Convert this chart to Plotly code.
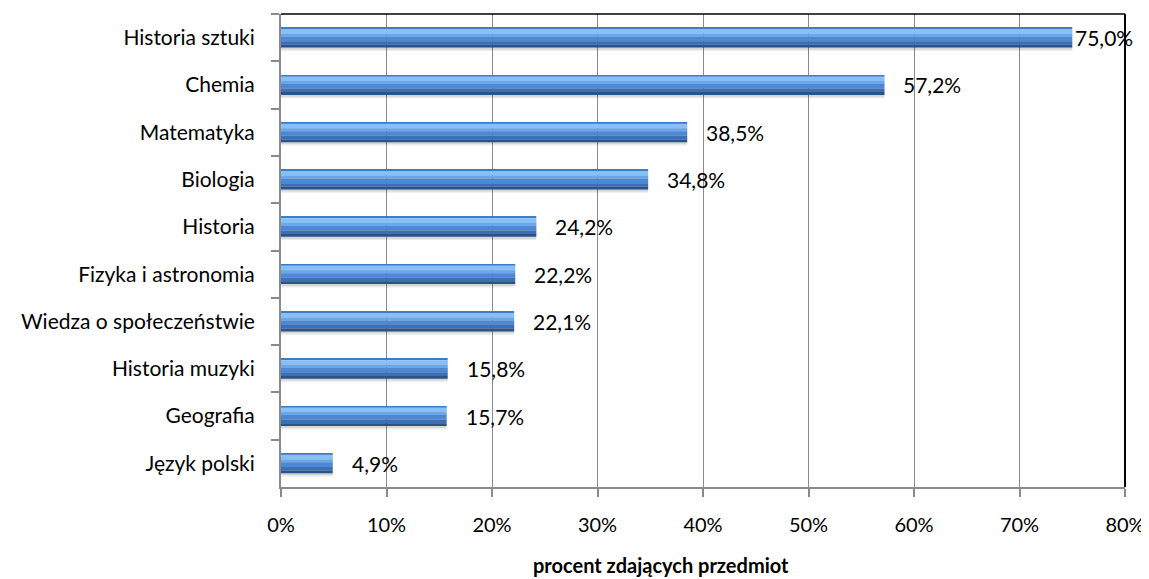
import plotly.graph_objects as go

categories = ["Historia sztuki", "Chemia", "Matematyka", "Biologia", "Historia",
              "Fizyka i astronomia", "Wiedza o społeczeństwie", "Historia muzyki",
              "Geografia", "Język polski"]
values = [75.0, 57.2, 38.5, 34.8, 24.2, 22.2, 22.1, 15.8, 15.7, 4.9]
x_ticks = [0, 10, 20, 30, 40, 50, 60, 70, 80]
x_ticktext = ["0%", "10%", "20%", "30%", "40%", "50%", "60%", "70%", "80%"]
x_title = "procent zdających przedmiot"

FONT = "Lato"
FS = 21
W = 0.42  # bar thickness in category units

fig = go.Figure()

# soft shadow under bars
for off, alpha in [(0.07, 0.10), (0.04, 0.12)]:
    fig.add_trace(go.Bar(
        y=categories, x=values, orientation="h",
        width=[W] * len(values), offset=[-W / 2 + off] * len(values),
        marker=dict(color=f"rgba(60,60,60,{alpha})", line=dict(width=0)),
        hoverinfo="skip", showlegend=False))

# vertical gradient stripes (top -> bottom)
stripes = [
    (0.00, 0.07, "#3f7cc8"),
    (0.07, 0.30, "#88bff5"),
    (0.30, 0.45, "#6aa6ea"),
    (0.45, 0.68, "#4e88d3"),
    (0.68, 0.86, "#3c6fb4"),
    (0.86, 1.00, "#2a538c"),
]
for a, b, col in stripes:
    fig.add_trace(go.Bar(
        y=categories, x=values, orientation="h",
        width=[(b - a) * W] * len(values),
        offset=[-W / 2 + a * W] * len(values),
        marker=dict(color=col, line=dict(width=0)),
        hoverinfo="skip", showlegend=False))

# data labels
x_max = x_ticks[-1]
for cat, v in zip(categories, values):
    shift = 17 if v < x_max - 6 else 1
    fig.add_annotation(
        x=v, y=cat, xref="x", yref="y",
        text=f"{v:.1f}%".replace(".", ","),
        showarrow=False, xanchor="left", yanchor="middle",
        xshift=shift, yshift=0,
        font=dict(family=FONT, size=FS, color="#000000"))

# page body has an 8px margin -> shrink figure accordingly
fig.update_layout(
    barmode="overlay",
    width=1141, height=571,
    margin=dict(l=273, r=24, t=6, b=92, autoexpand=False),
    paper_bgcolor="white", plot_bgcolor="white",
    font=dict(family=FONT, size=FS, color="#000000"),
    showlegend=False,
)

fig.update_xaxes(
    range=[0, x_max], tickvals=x_ticks, ticktext=x_ticktext,
    showgrid=True, gridcolor="#8a8a8a", gridwidth=1,
    showline=True, linecolor="#8a8a8a", linewidth=2,
    ticks="outside", ticklen=8, tickcolor="#8a8a8a", tickwidth=2,
    ticklabelstandoff=11, zeroline=False,
    tickfont=dict(family=FONT, size=FS - 1),
)
fig.update_yaxes(
    type="category", categoryorder="array", categoryarray=categories,
    autorange="reversed",
    showgrid=False, showline=True, linecolor="#8a8a8a", linewidth=2,
    ticks="outside", tickson="boundaries", ticklen=8, tickcolor="#8a8a8a", tickwidth=2,
    ticklabelstandoff=20,
    tickfont=dict(family=FONT, size=FS),
)

# black plot-area border on top and right
fig.add_shape(type="line", xref="paper", yref="paper", x0=0, x1=1, y0=1, y1=1,
              line=dict(color="#000000", width=1.5))
fig.add_shape(type="line", xref="paper", yref="paper", x0=1, x1=1, y0=0, y1=1,
              line=dict(color="#000000", width=2))

# axis title
fig.add_annotation(
    text=f"<b>{x_title}</b>", xref="paper", yref="paper",
    x=0.45, y=0, yshift=-78, xanchor="center", yanchor="middle",
    showarrow=False, font=dict(family=FONT, size=FS - 1, color="#000000"))

fig.write_html("out.html")
